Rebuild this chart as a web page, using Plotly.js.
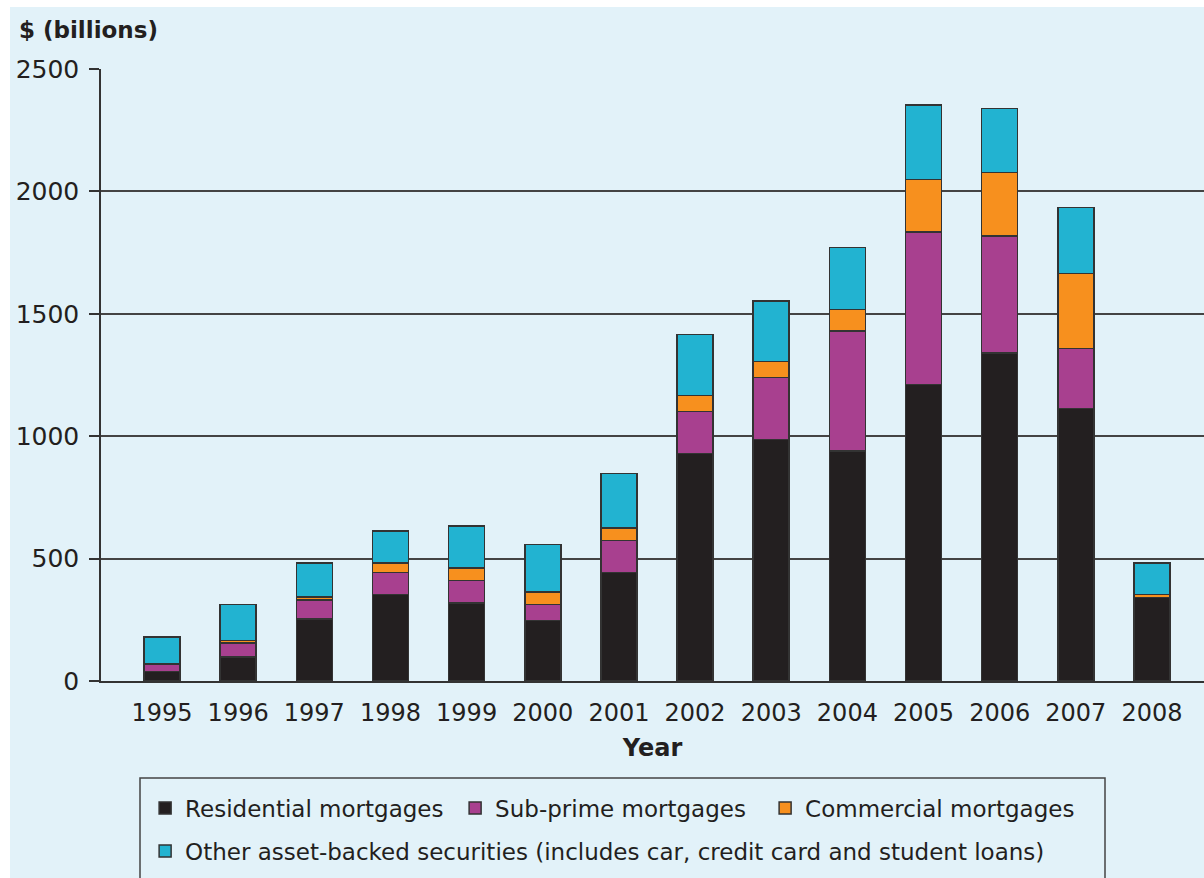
<!DOCTYPE html>
<html>
<head>
<meta charset="utf-8">
<script src="https://cdn.plot.ly/plotly-3.0.1.min.js"></script>
<style>
  html, body { margin: 0; padding: 0; background: #ffffff; overflow: hidden; }
  #chart { position: absolute; left: 10px; top: 7px; width: 1194px; height: 871px; }
</style>
</head>
<body>
<div id="chart"></div>
<script>
var years = ["1995","1996","1997","1998","1999","2000","2001","2002","2003","2004","2005","2006","2007","2008"];
var residential = [38, 98, 254, 353, 319, 248, 444, 929, 986, 940, 1211, 1340, 1113, 341];
var subprime    = [32, 57, 76, 90, 91, 64, 130, 171, 253, 490, 623, 477, 245, 0];
var commercial  = [0, 11, 13, 39, 52, 52, 51, 67, 67, 88, 215, 260, 306, 12];
var otherABS    = [110, 146, 139, 131, 171, 194, 222, 248, 246, 252, 303, 261, 270, 129];
var yTicks = [0, 500, 1000, 1500, 2000, 2500];

var seriesNames = ["Residential mortgages", "Sub-prime mortgages", "Commercial mortgages",
                   "Other asset-backed securities (includes car, credit card and student loans)"];
var seriesColors = ["#231f20", "#a8408f", "#f7901e", "#22b3d1"];
var seriesData = [residential, subprime, commercial, otherABS];
var seriesLegend = ["legend", "legend", "legend", "legend2"];

var traces = seriesData.map(function (vals, i) {
  return {
    type: "bar",
    x: years,
    y: vals,
    name: seriesNames[i],
    legend: seriesLegend[i],
    width: 0.473,
    marker: { color: seriesColors[i], line: { color: "#333333", width: 1.5 } },
    hoverinfo: "x+y+name"
  };
});

var textFont = "DejaVu Sans, sans-serif";

var layout = {
  width: 1194,
  height: 871,
  margin: { l: 91, r: 0, t: 62, b: 197 },
  paper_bgcolor: "#e2f2f9",
  plot_bgcolor: "#e2f2f9",
  barmode: "stack",
  showlegend: true,
  font: { family: textFont, color: "#231f20" },
  xaxis: {
    type: "category",
    range: [-0.801, 13.683],
    showgrid: false,
    showline: true,
    linecolor: "#333333",
    linewidth: 1.5,
    ticks: "",
    tickfont: { family: textFont, size: 24, color: "#231f20" },
    ticklabelstandoff: 9,
    title: { text: "<b>Year</b>", font: { family: textFont, size: 24, color: "#231f20" }, standoff: 14 },
    fixedrange: true
  },
  yaxis: {
    range: [0, 2500],
    tickvals: yTicks,
    ticktext: yTicks.map(String),
    showgrid: true,
    gridcolor: "#444444",
    gridwidth: 1.5,
    zeroline: false,
    showline: true,
    linecolor: "#333333",
    linewidth: 1.5,
    ticks: "outside",
    ticklen: 10,
    tickwidth: 1.5,
    tickcolor: "#333333",
    ticklabelstandoff: 5,
    tickfont: { family: textFont, size: 25, color: "#231f20" },
    fixedrange: true
  },
  legend: {
    orientation: "h",
    traceorder: "normal",
    entrywidth: 265,
    entrywidthmode: "pixels",
    x: 0.04, xanchor: "left",
    y: -0.2075, yanchor: "middle",
    bgcolor: "rgba(0,0,0,0)",
    borderwidth: 0,
    font: { family: textFont, size: 23, color: "#231f20" },
    itemclick: false, itemdoubleclick: false
  },
  legend2: {
    orientation: "h",
    traceorder: "normal",
    x: 0.04, xanchor: "left",
    y: -0.2778, yanchor: "middle",
    bgcolor: "rgba(0,0,0,0)",
    borderwidth: 0,
    font: { family: textFont, size: 23, color: "#231f20" },
    itemclick: false, itemdoubleclick: false
  },
  shapes: [{
    type: "rect", xref: "paper", yref: "paper",
    x0: (130 - 91) / 1103, x1: (1095 - 91) / 1103,
    y0: -0.40, y1: (674 - 771) / 612,
    line: { color: "#444444", width: 1.5 },
    fillcolor: "rgba(0,0,0,0)",
    layer: "below"
  }],
  annotations: [{
    xref: "paper", yref: "paper",
    x: (7 - 91) / 1103, y: (674 - 23) / 612,
    xanchor: "left", yanchor: "middle",
    text: "<b>$ (billions)</b>",
    showarrow: false,
    font: { family: textFont, size: 23, color: "#231f20" }
  }]
};

Plotly.newPlot("chart", traces, layout, { displayModeBar: false, staticPlot: false });
</script>
</body>
</html>
